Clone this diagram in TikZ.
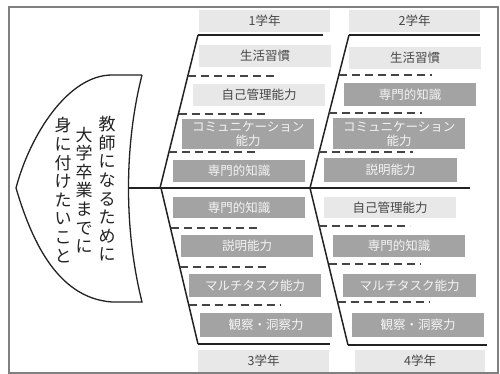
\documentclass[tikz,border=0pt]{standalone}
\usepackage{fontspec}
\setmainfont{Noto Sans CJK JP}
\definecolor{darkg}{HTML}{A3A3A3}
\definecolor{lightg}{HTML}{E8E8E8}
\definecolor{txtd}{HTML}{474747}
\definecolor{txtl}{HTML}{F4F4F4}
\definecolor{linec}{HTML}{222222}
\definecolor{dashc}{HTML}{444444}
\definecolor{framec}{HTML}{808080}
\begin{document}
\begin{tikzpicture}[x=1pt,y=-1pt,
  lbox/.style={fill=lightg, text=txtd, minimum width=132pt, minimum height=22pt,
    inner sep=0pt, anchor=north west, align=center,
    font=\fontsize{12.5}{14}\selectfont},
  dbox/.style={lbox, fill=darkg, text=txtl},
  ybox/.style={lbox, minimum width=131pt},
  dline/.style={draw=dashc, line width=1.7pt, dash pattern=on 8pt off 5pt},
  bone/.style={draw=linec, line width=1.5pt},
  heavy/.style={draw=linec, line width=2.2pt},
  vcol/.style={align=center, text=linec, inner sep=0pt,
    font=\fontsize{17}{18.6}\selectfont}]
\useasboundingbox (0,0) rectangle (500,374);
\draw[framec, line width=1.2pt] (9,7) rectangle (498,373);

% head
\coordinate (hT) at (142,75);
\coordinate (hM) at (128,188);
\coordinate (hB) at (142,302);
\coordinate (tip) at (16,188);
\draw[linec, line width=1.3pt, fill=white]
  (hT) -- (112,75) .. controls (68,75) and (30,135) .. (tip)
  .. controls (30,235) and (55,298) .. (112,302) -- (hB)
  .. controls (124,230) and (124,146) .. (hT);
\node[vcol] (c1) at (107,189) {教\\師\\に\\な\\る\\た\\め\\に};
\node[vcol] (c2) at (84,190) {大\\学\\卒\\業\\ま\\で\\に};
\node[vcol] (c3) at (63,190) {身\\に\\付\\け\\た\\い\\こ\\と};

% spine
\coordinate (sE) at (470,188);
\coordinate (j1) at (160,188);
\coordinate (j2) at (310,188);
\draw[heavy] (hM) -- (sE);

% bones
\coordinate (ulT) at (198,35);  \coordinate (ulE) at (323,35);
\coordinate (urT) at (349,35);  \coordinate (urE) at (480,35);
\coordinate (llB) at (198,344); \coordinate (llE) at (330,344);
\coordinate (lrB) at (348,345); \coordinate (lrE) at (487,345);
\draw[bone] (j1) -- (ulT);
\draw[bone] (j2) -- (urT);
\draw[bone] (161,188) -- (llB);
\draw[bone] (j2) -- (lrB);
\draw[heavy] (ulT) -- (ulE);
\draw[heavy] (urT) -- (urE);
\draw[heavy] (llB) -- (llE);
\draw[heavy] (lrB) -- (lrE);

% year labels
\node[ybox] (y1) at (199,10) {1学年};
\node[ybox] (y2) at (349,10) {2学年};
\node[ybox] (y3) at (198,350) {3学年};
\node[ybox, minimum width=130pt] (y4) at (355,350) {4学年};

% upper left (1学年)
\node[lbox] (ul1) at (199,45) {生活習慣};
\node[lbox] (ul2) at (193,84) {自己管理能力};
\node[dbox, minimum height=30pt] (ul3) at (182,119) {コミュニケーション\\能力};
\node[dbox] (ul4) at (173,160) {専門的知識};
\draw[dline] (188,76) -- (278,76);
\draw[dline] (178.5,114) -- (268,114);
\draw[dline] (169,152) -- (258,152);

% upper right (2学年)
\node[lbox] (ur1) at (349,47) {生活習慣};
\node[dbox, minimum height=23pt] (ur2) at (344,83) {専門的知識};
\node[dbox, minimum height=31pt] (ur3) at (333,118) {コミュニケーション\\能力};
\node[dbox, minimum height=24pt, minimum width=133pt] (ur4) at (324,158) {説明能力};
\draw[dline] (339,75) -- (432,75);
\draw[dline] (329,113) -- (422,113);
\draw[dline] (319,152) -- (413,152);

% lower left (3学年)
\node[dbox, minimum height=21pt] (ll1) at (173,197) {専門的知識};
\node[dbox] (ll2) at (181,235) {説明能力};
\node[dbox, minimum height=23pt] (ll3) at (189,274) {マルチタスク能力};
\node[dbox, minimum height=24pt] (ll4) at (200,313) {観察・洞察力};
\draw[dline] (170.5,228) -- (260,228);
\draw[dline] (179.5,267) -- (270,267);
\draw[dline] (188.5,305) -- (280,305);

% lower right (4学年)
\node[lbox, minimum height=21pt] (lr1) at (324,197) {自己管理能力};
\node[dbox] (lr2) at (333,235) {専門的知識};
\node[dbox, minimum height=23pt, minimum width=133pt] (lr3) at (343,274) {マルチタスク能力};
\node[dbox, minimum height=24pt] (lr4) at (352,313) {観察・洞察力};
\draw[dline] (319,226) -- (410,226);
\draw[dline] (328.5,264) -- (420,264);
\draw[dline] (337.5,302) -- (430,302);
\end{tikzpicture}
\end{document}
